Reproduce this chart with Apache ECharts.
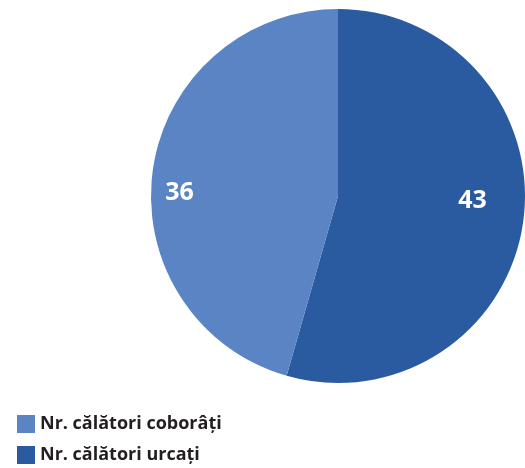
<!DOCTYPE html>
<html><head><meta charset="utf-8">
<script src="https://cdn.jsdelivr.net/npm/echarts@6/dist/echarts.min.js"></script>
<style>html,body{margin:0;padding:0;background:#fff}#c{width:525px;height:468px}</style>
</head><body><div id="c"></div>
<script>
const categories = ["Nr. călători urcați", "Nr. călători coborâți"];
const values = [43, 36];
const legendOrder = ["Nr. călători coborâți", "Nr. călători urcați"];
const colors = ["#2a5a9f", "#5b84c4"];
const labelOffsets = [[39, -9], [-63, 10]];

const chart = echarts.init(document.getElementById('c'), null, {renderer: 'canvas'});
chart.setOption({
  animation: false,
  legend: {
    data: legendOrder,
    orient: 'vertical',
    left: 17, top: 415, padding: 0, height: 60,
    itemWidth: 18, itemHeight: 18, itemGap: 13,
    icon: 'rect',
    textStyle: {fontFamily: 'Open Sans', fontWeight: 'bold', fontSize: 18, color: '#231f20', padding: [0,0,0,0]}
  },
  series: [{
    type: 'pie',
    center: [338, 196],
    radius: [0, 187],
    startAngle: 90,
    clockwise: true,
    avoidLabelOverlap: false,
    label: {show: true, position: 'inside', formatter: '{c}', color: '#fff', fontFamily: 'Open Sans', fontWeight: 'bold', fontSize: 25},
    labelLine: {show: false},
    emphasis: {disabled: true},
    data: categories.map((n, i) => ({name: n, value: values[i], itemStyle: {color: colors[i]}, label: {offset: labelOffsets[i]}}))
  }]
});
</script></body></html>
